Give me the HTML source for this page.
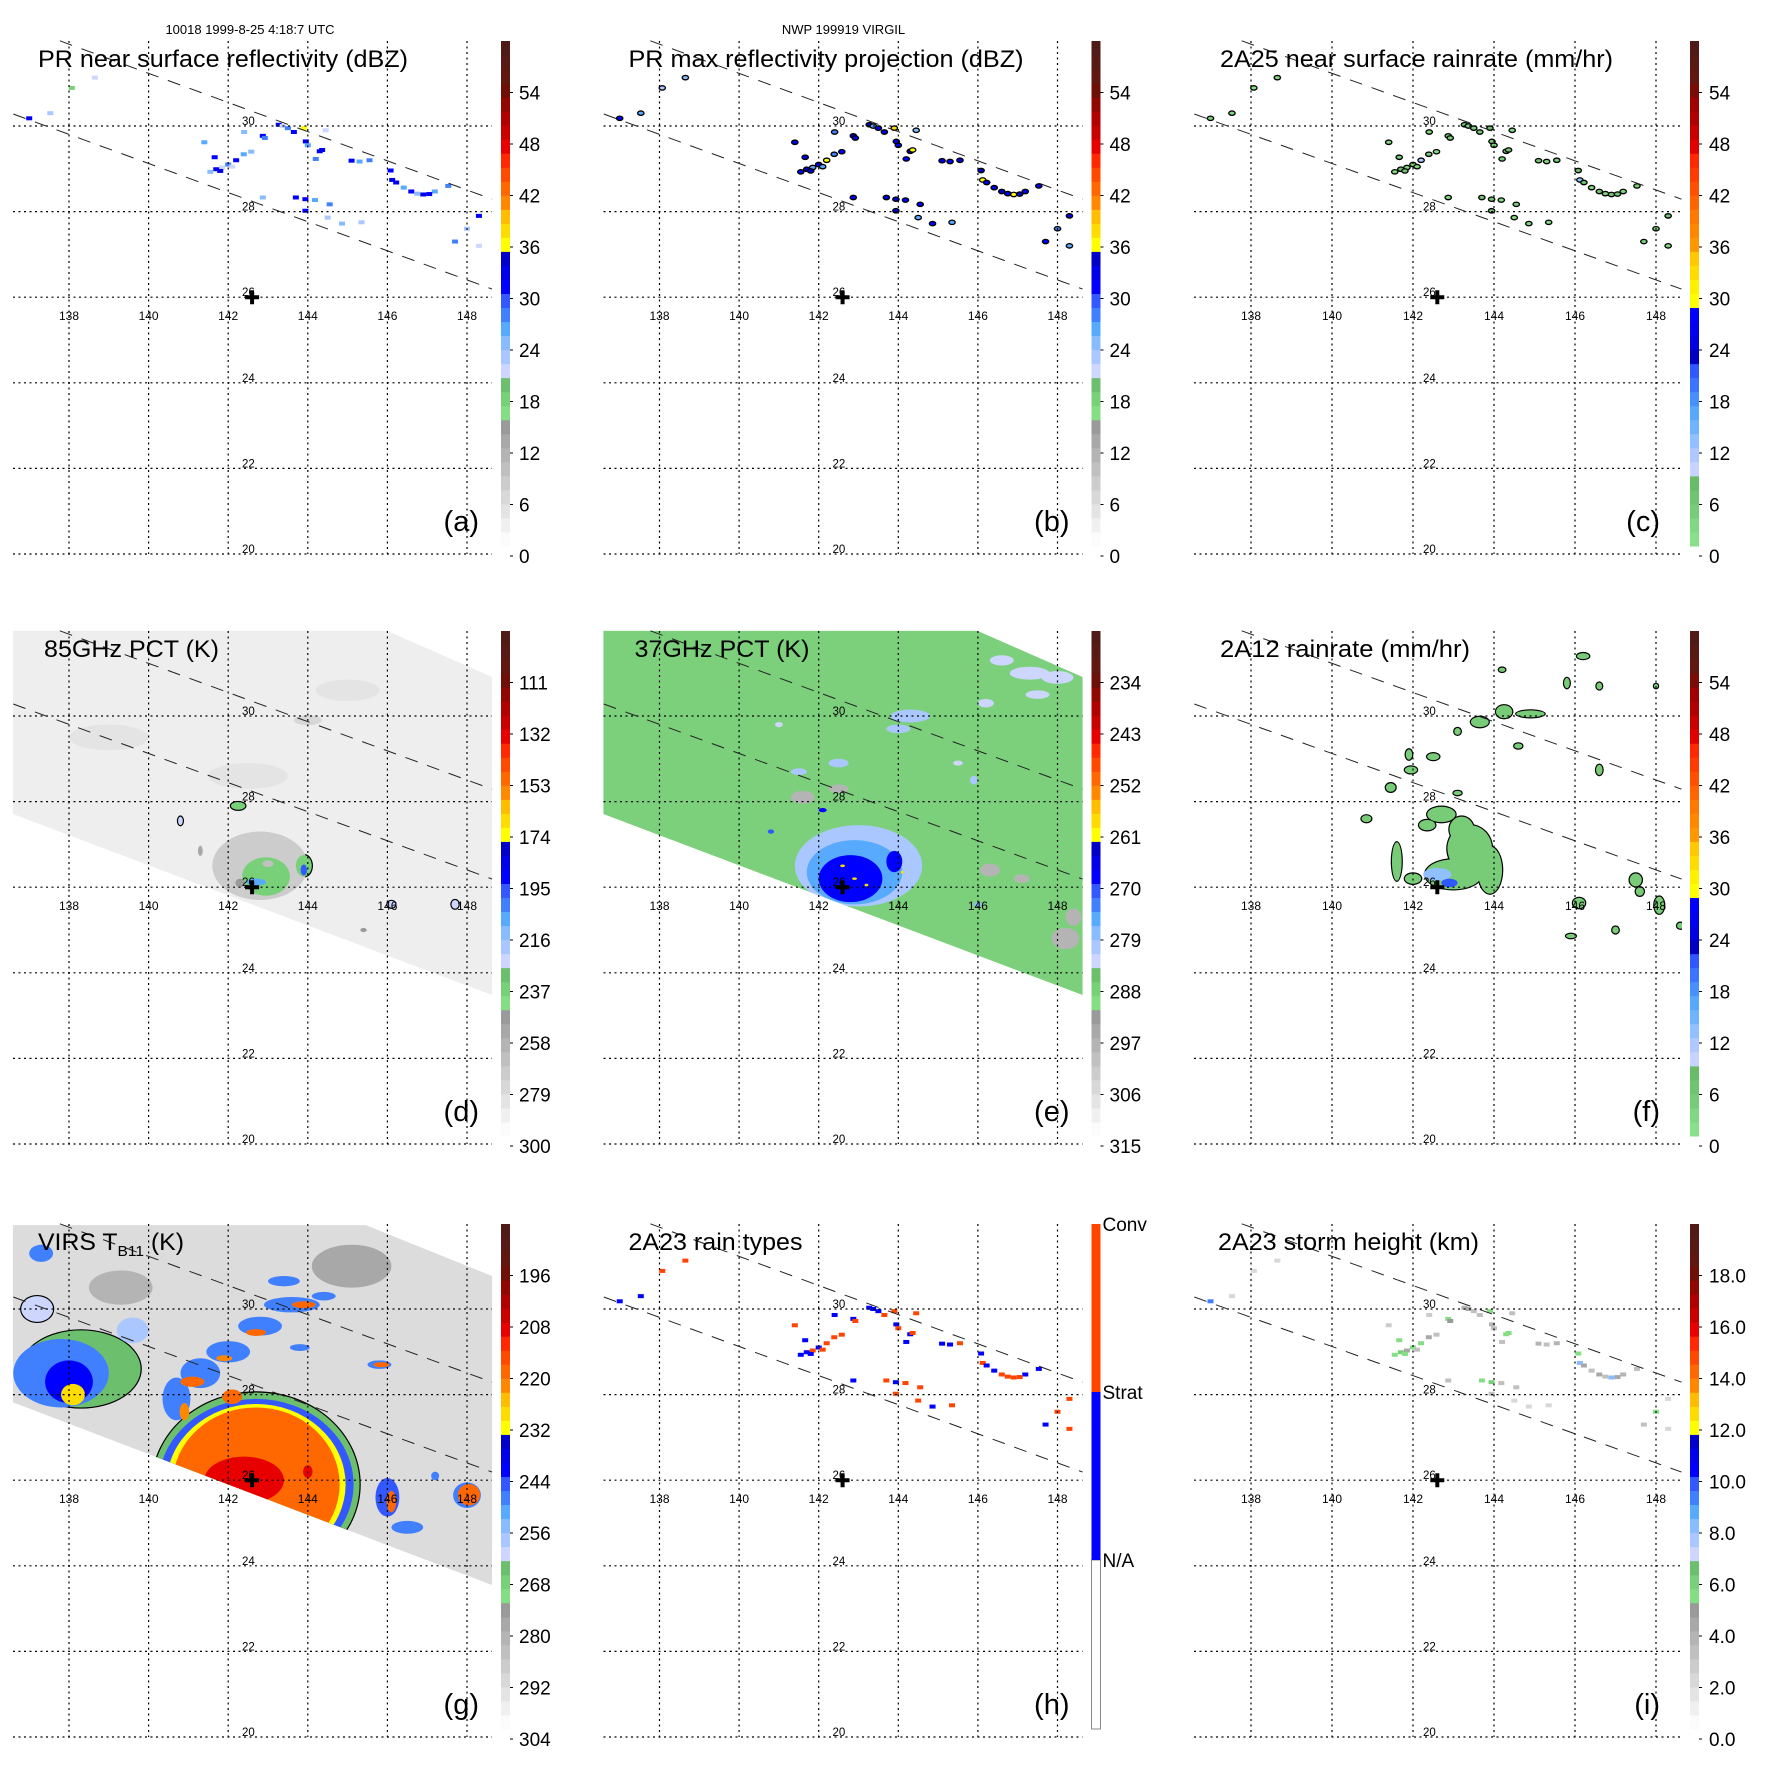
<!DOCTYPE html>
<html><head><meta charset="utf-8"><title>TRMM Virgil composite</title>
<style>
html,body{margin:0;padding:0;background:#fff;}
svg{display:block;font-family:"Liberation Sans",Arial,sans-serif;}
</style></head>
<body>
<svg id="fig" xmlns="http://www.w3.org/2000/svg" width="1771" height="1771" viewBox="0 0 1771 1771">
<rect x="0" y="0" width="1771" height="1771" fill="#ffffff"/>
</svg>
<script>
// ---------- DATA ----------
const lonTicks = [138,140,142,144,146,148];
const latTicks = [30,28,26,24,22,20];
const stormLon = [142.6];
const stormLat = [26.0];
const swathUpperLon = [137.77,148.63];
const swathUpperLat = [31.99,28.29];
const swathLowerLon = [136.6,148.63];
const swathLowerLat = [30.28,26.19];
const tmiSwathLon = [136.59,145.99,148.63,148.63,136.59];
const tmiSwathLat = [31.99,31.99,30.91,23.48,27.71];
const virsSwathLon = [136.59,145.46,148.63,148.63,136.59];
const virsSwathLat = [31.96,31.96,30.77,23.55,27.82];

const aTicks = ['0','6','12','18','24','30','36','42','48','54'];
const bTicks = ['0','6','12','18','24','30','36','42','48','54'];
const cTicks = ['0','6','12','18','24','30','36','42','48','54'];
const dTicks = ['300','279','258','237','216','195','174','153','132','111'];
const eTicks = ['315','306','297','288','279','270','261','252','243','234'];
const fTicks = ['0','6','12','18','24','30','36','42','48','54'];
const gTicks = ['304','292','280','268','256','244','232','220','208','196'];
const hTicks = ['N/A','Strat','Conv'];
const iTicks = ['0.0','2.0','4.0','6.0','8.0','10.0','12.0','14.0','16.0','18.0'];

// PR footprint locations (shared by panels a,b,c,h,i)
const prLon = [141.66,141.70,141.85,142.00,142.20,142.39,142.58,142.87,142.92,143.27,143.37,143.65,143.90,143.95,144.00,144.30,144.36,144.20,145.10,145.30,145.55,146.08,146.12,146.22,146.41,146.60,146.90,147.19,147.53,142.87,143.70,143.94,144.18,144.55,143.94,144.50,144.86,145.35,147.70,148.30,148.30,148.00,141.40,142.40,144.45,141.55,138.07,138.65,137.53,137.00,141.80,142.10,143.50,146.75,147.05];
const prLat = [29.27,28.99,29.03,29.10,29.20,29.34,29.40,29.77,29.72,30.03,30.00,29.86,29.95,29.64,29.55,29.41,29.44,29.23,29.19,29.17,29.20,28.96,28.74,28.68,28.56,28.47,28.40,28.47,28.60,28.33,28.33,28.29,28.27,28.17,28.02,27.86,27.72,27.75,27.30,27.90,27.20,27.60,29.62,29.86,29.90,28.93,30.89,31.13,30.30,30.18,28.95,29.05,29.95,28.42,28.41];
const aVal = [30,32,20,28,30,26,24,30,28,32,20,30,36,30,26,30,32,28,30,26,28,30,32,30,26,30,32,26,28,24,30,32,26,28,30,22,24,22,28,30,20,22,26,24,20,24,18,20,22,30,32,20,28,24,30];
const bVal = [32,34,26,30,36,28,30,34,32,34,26,32,38,32,30,34,36,30,32,30,32,34,36,32,30,34,36,30,32,30,32,34,30,32,32,26,30,26,30,32,26,28,30,28,24,30,22,24,26,32,34,26,32,30,34];
const cVal = [4,6,2,4,10,4,3,5,4,6,2,4,8,4,3,5,6,4,5,3,4,6,12,5,3,5,6,3,4,3,5,6,3,4,5,2,3,2,4,5,2,2,3,3,2,3,1,2,2,4,5,2,4,3,5];
const hType = [1,1,2,1,2,2,2,1,2,1,1,2,2,1,2,1,2,1,1,1,2,1,2,1,1,2,2,1,1,1,2,1,2,2,2,2,1,2,1,2,2,2,2,1,2,1,2,2,1,1,1,2,1,2,2];
const iVal = [5.5,6,4,5,5.5,4,3,5,4.5,3.5,4,3,5.5,3.5,3,5.5,5,3,3.5,3,3.5,5,8,4,3,4,8,3.5,3,3,5.5,6,3,3,3,2,2,2,3,2,2,5.5,2.5,2.5,3,5,2,2,2,9,5.5,3,3,3,4];

// TMI 85 GHz features (panel d)
const dLon = [142.5,145.0,142.8,142.95,142.7,143.0,143.9,143.9,142.25,140.8,141.3,142.3,146.1,147.7,145.4,144.0,139.0];
const dLat = [28.6,30.6,26.5,26.25,26.12,26.55,26.5,26.4,27.9,27.55,26.85,26.1,25.6,25.6,25.0,29.9,29.5];
const dRx = [1.0,0.8,1.2,0.6,0.25,0.14,0.2,0.08,0.18,0.06,0.06,0.12,0.1,0.09,0.08,0.35,1.0];
const dRy = [0.3,0.25,0.8,0.45,0.08,0.08,0.25,0.13,0.09,0.1,0.12,0.1,0.08,0.1,0.05,0.12,0.3];
const dVal = [284,286,276,240,210,270,238,200,238,226,255,250,230,230,250,280,286];

// TMI 37 GHz features (panel e)
const eLon = [143.0,142.9,142.8,143.9,142.6,142.9,143.2,144.1,141.6,142.5,146.3,147.1,148.2,148.4,146.6,147.3,148.0,146.2,147.5,144.3,144.0,142.5,141.5,145.9,146.0,140.8,142.1,141.0,145.5];
const eLat = [26.5,26.35,26.2,26.6,26.5,26.2,26.05,26.35,28.1,28.3,26.4,26.2,24.8,25.3,31.3,31.0,30.9,30.3,30.5,30.0,29.7,28.9,28.7,28.5,25.6,27.3,27.8,29.8,28.9];
const eRx = [1.6,1.2,0.8,0.2,0.06,0.06,0.05,0.04,0.3,0.25,0.25,0.2,0.35,0.2,0.3,0.5,0.4,0.2,0.3,0.5,0.3,0.25,0.2,0.1,0.1,0.08,0.1,0.1,0.12];
const eRy = [0.95,0.75,0.55,0.25,0.03,0.03,0.03,0.03,0.15,0.1,0.15,0.1,0.25,0.2,0.12,0.15,0.15,0.1,0.1,0.15,0.1,0.1,0.08,0.1,0.05,0.05,0.05,0.06,0.06];
const eVal = [282,276,268,268,260,260,260,260,298,298,298,298,298,298,283,283,283,283,283,281,281,281,281,281,280,272,270,283,283];

// TMI 2A12 rain blobs (panel f)
const fLon = [143.4,143.0,143.9,142.7,141.6,143.2,142.35,142.6,142.9,146.2,144.2,145.8,146.6,148.0,144.25,144.9,143.65,143.1,144.6,141.9,142.5,141.95,141.45,143.1,146.6,140.85,147.5,146.1,148.08,147.0,145.9,148.6,147.6,142.0,143.9];
const fLat = [26.9,26.3,26.4,27.7,26.6,27.35,27.45,26.3,26.1,31.4,31.08,30.77,30.7,30.7,30.1,30.05,29.86,29.64,29.3,29.1,29.05,28.74,28.33,28.2,28.74,27.6,26.17,25.63,25.58,25.0,24.86,25.1,25.9,26.2,26.1];
const fRx = [0.55,0.7,0.3,0.35,0.12,0.3,0.2,0.35,0.2,0.15,0.08,0.07,0.07,0.05,0.2,0.35,0.22,0.08,0.1,0.08,0.15,0.15,0.12,0.1,0.08,0.12,0.15,0.15,0.12,0.08,0.12,0.08,0.1,0.2,0.12];
const fRy = [0.55,0.35,0.55,0.18,0.45,0.3,0.12,0.15,0.1,0.07,0.05,0.12,0.08,0.05,0.15,0.08,0.12,0.08,0.06,0.12,0.08,0.08,0.1,0.05,0.12,0.08,0.15,0.12,0.2,0.08,0.05,0.07,0.1,0.12,0.1];
const fVal = [4,4,4,4,4,4,4,12,20,4,4,4,4,3,4,4,4,4,4,4,4,4,4,4,4,4,4,4,4,4,4,4,4,4,4];

// VIRS IR features (panel g)
const gLon = [145.1,139.3,142.7,142.7,142.7,142.7,142.4,144.0,138.3,137.8,138.0,138.1,140.7,141.3,142.0,142.8,143.6,144.4,143.4,141.1,141.9,142.7,143.9,140.9,142.1,146.0,146.1,148.0,148.05,147.2,145.8,145.85,143.8,146.5,137.3,139.6,137.2];
const gLat = [31.0,30.5,25.9,25.9,25.9,25.9,26.0,26.2,28.6,28.5,28.3,28.0,27.9,28.5,29.0,29.6,30.1,30.3,30.65,28.3,28.85,29.45,30.1,27.6,27.95,25.6,25.5,25.65,25.66,26.1,28.7,28.7,29.1,24.9,31.3,29.5,30.0];
const gRx = [1.0,0.8,2.6,2.45,2.25,2.1,1.0,0.12,1.5,1.2,0.6,0.3,0.35,0.5,0.55,0.55,0.7,0.3,0.4,0.3,0.2,0.25,0.3,0.12,0.25,0.3,0.12,0.35,0.28,0.1,0.3,0.2,0.25,0.4,0.3,0.4,0.4];
const gRy = [0.5,0.4,2.15,2.0,1.88,1.8,0.55,0.15,0.9,0.8,0.5,0.25,0.5,0.35,0.25,0.22,0.18,0.1,0.12,0.12,0.07,0.08,0.08,0.2,0.17,0.45,0.25,0.3,0.25,0.1,0.1,0.06,0.08,0.15,0.2,0.3,0.3];
const gVal = [280,284,266,246,232,220,210,210,266,250,242,230,250,248,248,248,248,248,250,220,222,220,220,222,220,246,220,250,220,250,250,220,250,250,250,258,262];

// ---------- RENDER ----------
const NS = 'http://www.w3.org/2000/svg';
const svg = document.getElementById('fig');
const PX = [0,590.5,1181];
const PY = [0,590,1183];

const STD = ['#fbfbfb','#f0f0f0','#e4e4e4','#d8d8d8','#cccccc','#c0c0c0','#b4b4b4','#a8a8a8','#9a9a9a',
 '#84de84','#78d078','#6cbf6c','#ccd6ff','#aac8ff','#88bcff','#58aaff','#4080ff','#3458ff',
 '#0000ff','#0000ea','#0000c8','#ffff00','#ffdc00','#ffbc00','#ff8800','#ff6800','#ff4800',
 '#ff2800','#e80000','#c80000','#b00000','#900800','#6e1008','#601810','#581a14','#501a16'];
const RAIN = ['#88e088','#80d880','#78cc78','#70c470','#68bc68','#c8d4ff','#b0c8ff','#90c0ff','#70b4ff',
 '#58a8ff','#4890ff','#3c74ff','#3058ff','#0000c0','#0000e0','#0000f0','#0000ff','#ffff00','#fff000',
 '#ffdc00','#ffc800','#ff9800','#ff8800','#ff7800','#ff6400','#ff5000','#ff3c00','#ff2800','#e00000',
 '#c80000','#b00000','#a00000','#7a0c06','#601810','#581a14','#501a16'];

function mk(tag, attrs, parent){
  const el = document.createElementNS(NS, tag);
  for (const k in attrs) el.setAttribute(k, attrs[k]);
  parent.appendChild(el);
  return el;
}

function geo(col){
  const c2 = col===2;
  return {
    X: l => (c2?70:69) + (l-138)*(c2?40.5:39.8),
    Y: la => 126 + (30-la)*42.8,
    gx1: 13, gx2: c2?501:492, cbx: c2?509:501, lbx: c2?528:519
  };
}

function panel(opts){
  const g = mk('g', {transform:`translate(${PX[opts.col]},${PY[opts.row]})`}, svg);
  
  
  const G = geo(opts.col);
  const clipId = 'clip-' + opts.key;
  const defs = mk('defs', {}, g);
  const cp = mk('clipPath', {id: clipId}, defs);
  if (opts.swathLon){
    const pts = opts.swathLon.map((l,i)=>G.X(l)+','+G.Y(opts.swathLat[i])).join(' ');
    mk('polygon', {points: pts}, cp);
  } else {
    mk('rect', {x:G.gx1, y:41, width:G.gx2-G.gx1, height:513}, cp);
  }
  if (opts.swathLon){
    const pts = opts.swathLon.map((l,i)=>G.X(l)+','+G.Y(opts.swathLat[i])).join(' ');
    const sw = mk('polygon', {points: pts, fill: opts.swathFill}, g);
    
    
  }
  const marks = mk('g', {'clip-path': `url(#${clipId})`}, g);
  
  
  if (opts.draw) opts.draw(marks, G);

  for (const l of lonTicks){
    const ln = mk('line', {x1:G.X(l), x2:G.X(l), y1:41, y2:554, stroke:'#000', 'stroke-width':1.2, 'stroke-dasharray':'2,3.5'}, g);
    
    
    const t = mk('text', {x:G.X(l), y:320, 'font-size':12, 'text-anchor':'middle', fill:'#000'}, g);
    t.textContent = String(l);
    
    
  }
  for (const la of latTicks){
    const ln = mk('line', {x1:G.gx1, x2:G.gx2, y1:G.Y(la), y2:G.Y(la), stroke:'#000', 'stroke-width':1.2, 'stroke-dasharray':'2,3.5'}, g);
    
    
    const t = mk('text', {x:242, y:G.Y(la)-1, 'font-size':11.5, fill:'#000'}, g);
    t.textContent = String(la);
    
    
  }
  const up = mk('line', {x1:G.X(swathUpperLon[0]), y1:G.Y(swathUpperLat[0]), x2:G.X(swathUpperLon[1]), y2:G.Y(swathUpperLat[1]), stroke:'#222', 'stroke-width':1, 'stroke-dasharray':'13,10'}, g);
  
  
  const lo = mk('line', {x1:G.X(swathLowerLon[0]), y1:G.Y(swathLowerLat[0]), x2:G.X(swathLowerLon[1]), y2:G.Y(swathLowerLat[1]), stroke:'#222', 'stroke-width':1, 'stroke-dasharray':'13,10'}, g);
  
  
  const cx = G.X(stormLon[0]), cy = G.Y(stormLat[0]);
  const cr = mk('path', {d:`M${cx-7},${cy-2}h5v-5h4v5h5v4h-5v5h-4v-5h-5z`, fill:'#000'}, g);
  
  
  const tt = mk('text', {x:opts.tx||38, y:67, 'font-size':24, fill:'#000', textLength:opts.tw, lengthAdjust:'spacingAndGlyphs'}, g);
  tt.textContent = opts.title;
  
  
  if (opts.sub){
    const s1 = mk('tspan', {'font-size':15, dy:6}, tt); s1.textContent = opts.sub;
    const s2 = mk('tspan', {dy:-6}, tt); s2.textContent = opts.tail;
  }
  const lt = mk('text', {x:479, y:531, 'font-size':29, 'text-anchor':'end', fill:'#000'}, g);
  lt.textContent = '(' + opts.key + ')';
  
  
  const cb = mk('g', {}, g);
  
  
  if (opts.categorical){
    const segs = [['#ffffff',377,546],['#0000ff',209,377],['#ff4400',41,209]];
    segs.forEach((s,i)=>{
      const r = mk('rect', {x:G.cbx, y:s[1], width:9, height:s[2]-s[1], fill:s[0], stroke: i===0?'#888':'none', 'stroke-width':1}, cb);
      
      
      const t = mk('text', {x:G.cbx+11, y:s[1]+7, 'font-size':19, fill:'#000'}, cb);
      t.textContent = opts.ticks[i];
      
      
    });
  } else {
    const cm = opts.cmap, n = cm.length, h = 505/n;
    for (let i=0;i<n;i++){
      const r = mk('rect', {x:G.cbx, y:546-(i+1)*h, width:9, height:h+0.5, fill:cm[i]}, cb);
      
      
    }
    opts.ticks.forEach((lab,i)=>{
      const y = 556 - i*51.5;
      const tk = mk('line', {x1:G.cbx+9, x2:G.cbx+12, y1:y, y2:y, stroke:'#000', 'stroke-width':1}, cb);
      
      
      const t = mk('text', {x:G.lbx, y:y+7, 'font-size':19, fill:'#000'}, cb);
      t.textContent = lab;
      
      
    });
  }
  return g;
}

function colorOf(cm, frac){
  const n = cm.length;
  let i = Math.floor(frac*n);
  if (i<0) i=0; if (i>n-1) i=n-1;
  return cm[i];
}

function drawPoints(layer, G, vals, colorFn, outline, name){
  prLon.forEach((l,i)=>{
    const x = G.X(l), y = G.Y(prLat[i]);
    let el;
    if (outline){
      el = mk('ellipse', {cx:x, cy:y, rx:3.2, ry:2.2, fill:colorFn(vals[i]), stroke:'#000', 'stroke-width':1.3}, layer);
    } else {
      el = mk('rect', {x:x-3, y:y-2, width:6, height:4, fill:colorFn(vals[i])}, layer);
    }
    
    
  });
}

function drawBlobs(layer, G, lon, lat, rx, ry, val, colorFn, strokeFn, name){
  const sx = G.X(139)-G.X(138);
  if (strokeFn){
    lon.forEach((l,i)=>{
      const s = strokeFn(val[i]);
      if (s==='none') return;
      const el = mk('ellipse', {cx:G.X(l), cy:G.Y(lat[i]), rx:rx[i]*sx+1.2, ry:ry[i]*42.8+1.2, fill:s}, layer);
      
      
    });
  }
  lon.forEach((l,i)=>{
    const el = mk('ellipse', {cx:G.X(l), cy:G.Y(lat[i]), rx:rx[i]*sx, ry:ry[i]*42.8, fill:colorFn(val[i])}, layer);
    
    
  });
}

const h1 = mk('text', {x:250, y:34, 'font-size':13, 'text-anchor':'middle', fill:'#000'}, svg);
h1.textContent = '10018 1999-8-25 4:18:7 UTC';


const h2 = mk('text', {x:590.5+253, y:34, 'font-size':13, 'text-anchor':'middle', fill:'#000'}, svg);
h2.textContent = 'NWP 199919 VIRGIL';



const dbz = v => colorOf(STD, v/60);
const rain = v => colorOf(RAIN, v/60);

panel({key:'a', col:0, row:0, title:'PR near surface reflectivity (dBZ)', tw:370, ticks:aTicks, cmap:STD,
  draw:(L,G)=>drawPoints(L,G,aVal,dbz,false,'pr-reflectivity-pixel')});
panel({key:'b', col:1, row:0, title:'PR max reflectivity projection (dBZ)', tw:395, ticks:bTicks, cmap:STD,
  draw:(L,G)=>drawPoints(L,G,bVal,dbz,true,'pr-max-reflectivity-cell')});
panel({key:'c', col:2, row:0, title:'2A25 near surface rainrate (mm/hr)', tw:393, tx:39, ticks:cTicks, cmap:RAIN,
  draw:(L,G)=>drawPoints(L,G,cVal,rain,true,'pr-rainrate-cell')});
panel({key:'d', col:0, row:1, title:'85GHz PCT (K)', tw:175, tx:44, ticks:dTicks, cmap:STD,
  swathLon:tmiSwathLon, swathLat:tmiSwathLat, swathFill:'#eeeeee',
  draw:(L,G)=>drawBlobs(L,G,dLon,dLat,dRx,dRy,dVal,v=>colorOf(STD,(300-v)/210),v=>(v<=245?'#000':'none'),'pct85-feature')});
panel({key:'e', col:1, row:1, title:'37GHz PCT (K)', tw:175, tx:44, ticks:eTicks, cmap:STD,
  swathLon:tmiSwathLon, swathLat:tmiSwathLat, swathFill:'#7cd07c',
  draw:(L,G)=>drawBlobs(L,G,eLon,eLat,eRx,eRy,eVal,v=>colorOf(STD,(315-v)/90),null,'pct37-feature')});
panel({key:'f', col:2, row:1, title:'2A12 rainrate (mm/hr)', tw:250, tx:39, ticks:fTicks, cmap:RAIN,
  draw:(L,G)=>drawBlobs(L,G,fLon,fLat,fRx,fRy,fVal,rain,v=>(v<8?'#000':'none'),'tmi-rain-feature')});
panel({key:'g', col:0, row:2, title:'VIRS T', sub:'B11', tail:' (K)', tw:146, ticks:gTicks, cmap:STD,
  swathLon:virsSwathLon, swathLat:virsSwathLat, swathFill:'#dcdcdc',
  draw:(L,G)=>drawBlobs(L,G,gLon,gLat,gRx,gRy,gVal,v=>colorOf(STD,(304-v)/120),v=>((v>=262&&v<=268)||v<=212?'#000':'none'),'virs-ir-feature')});
panel({key:'h', col:1, row:2, title:'2A23 rain types', tw:174, ticks:hTicks, categorical:true,
  draw:(L,G)=>drawPoints(L,G,hType,t=>(t===2?'#ff4400':'#0000ff'),false,'rain-type-pixel')});
panel({key:'i', col:2, row:2, title:'2A23 storm height (km)', tw:261, tx:37, ticks:iTicks, cmap:STD,
  draw:(L,G)=>drawPoints(L,G,iVal,v=>colorOf(STD,v/20),false,'storm-height-pixel')});
</script>
</body></html>
